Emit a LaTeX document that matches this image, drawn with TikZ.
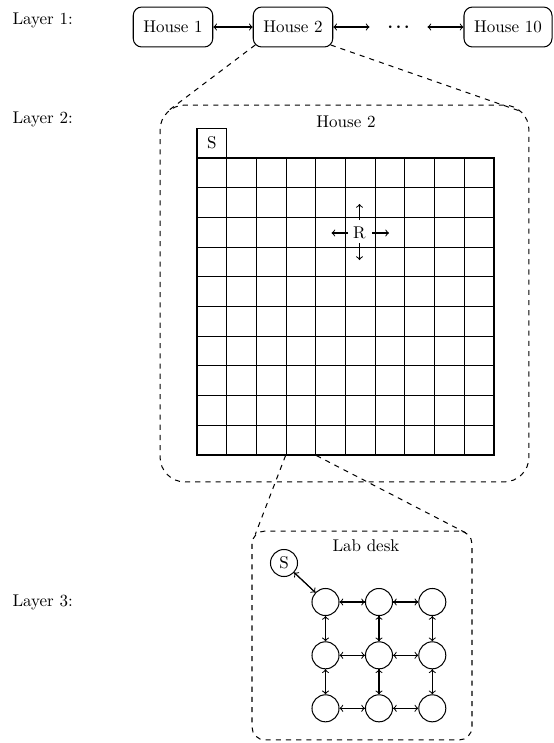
\documentclass[tikz,border=0pt]{standalone}
\usepackage{bm}
\usetikzlibrary{calc}
\begin{document}
\begin{tikzpicture}[x=0.5882pt,y=-0.5882pt,>=to,line width=0.6pt,
  house/.style={draw, rounded corners=5pt, minimum height=23.5pt, inner xsep=6pt},
  layerlbl/.style={anchor=west, inner sep=0pt},
  zoombox/.style={draw, dashed},
  cell/.style={draw, minimum size=17.47pt, inner sep=0pt},
  agent/.style={draw, circle, minimum size=15.9pt, inner sep=0pt},
  link/.style={<->},
  guide/.style={dashed}]
\useasboundingbox (0,0) rectangle (553,743);

% layer labels
\node[layerlbl] (l1) at (12,20) {Layer 1:};
\node[layerlbl] (l2) at (12,119) {Layer 2:};
\node[layerlbl] (l3) at (12,602) {Layer 3:};

% layer 1
\node[house] (h1) at (173,27) {House 1};
\node[house] (h2) at (293,27) {House 2};
\node[minimum width=33.5pt, inner sep=0pt] (dots) at (398.5,27) {$\bm{\cdot}\mkern-1mu\bm{\cdot}\mkern-1mu\bm{\cdot}$};
\node[house] (h10) at (508,27) {House 10};
\draw[link] (h1) -- (h2);
\draw[link] (h2) -- (dots);
\draw[link] (dots) -- (h10);

% layer 2
\node[zoombox, rounded corners=14.7pt, minimum width=217pt, minimum height=221.7pt] (big) at (344.5,293.5) {};
\node (t2) at (346,122) {House 2};
\node[cell] (S) at (211.85,143) {S};
\foreach \i in {0,...,9}{
  \foreach \j in {0,...,9}{
    \node[cell] (c-\i-\j) at ({211.85+29.7*\i},{172.85+29.7*\j}) {};
  }
}
\node[inner sep=0pt] (R) at (359.5,233) {R};
\coordinate (Rn) at ($(R)+(0,-13)$);
\coordinate (Rnn) at ($(R)+(0,-29)$);
\coordinate (Rs) at ($(R)+(0,10)$);
\coordinate (Rss) at ($(R)+(0,27)$);
\coordinate (Rw) at ($(R)+(-11.5,0)$);
\coordinate (Rww) at ($(R)+(-28,0)$);
\coordinate (Re) at ($(R)+(12.5,0)$);
\coordinate (Ree) at ($(R)+(29.5,0)$);
\draw[->] (Rn) -- (Rnn);
\draw[->] (Rs) -- (Rss);
\draw[->] (Rw) -- (Rww);
\draw[->] (Re) -- (Ree);

\draw[guide] ($(h2.south west)+(2.5,-2.5)$) -- ($(big.north west)+(7.3,7.3)$);
\draw[guide] ($(h2.south east)+(-2.5,-2.5)$) -- ($(big.north east)+(-7.3,7.3)$);

% layer 3
\node[zoombox, rounded corners=7.6pt, minimum width=129.4pt, minimum height=122.9pt] (desk) at (362,635.5) {};
\node (t3) at (366,546) {Lab desk};
\draw[guide] (c-3-9.south west) -- ($(desk.north west)+(3.8,3.8)$);
\draw[guide] (c-3-9.south east) -- ($(desk.north east)+(-3.8,3.8)$);

\node[agent] (s) at (284,563) {S};
\foreach \i/\x in {0/325.5,1/379,2/432.3}{
  \foreach \j/\y in {0/602,1/655.3,2/708.3}{
    \node[agent] (a-\i-\j) at (\x,\y) {};
  }
}
\draw[->] (s) -- (a-0-0);
\draw[->] (a-0-0) -- (s);
\foreach \i/\n in {0/1,1/2}{
  \foreach \j in {0,1,2}{
    \draw[->] (a-\i-\j) -- (a-\n-\j);
    \draw[->] (a-\n-\j) -- (a-\i-\j);
    \draw[->] (a-\j-\i) -- (a-\j-\n);
    \draw[->] (a-\j-\n) -- (a-\j-\i);
  }
}
\end{tikzpicture}
\end{document}
